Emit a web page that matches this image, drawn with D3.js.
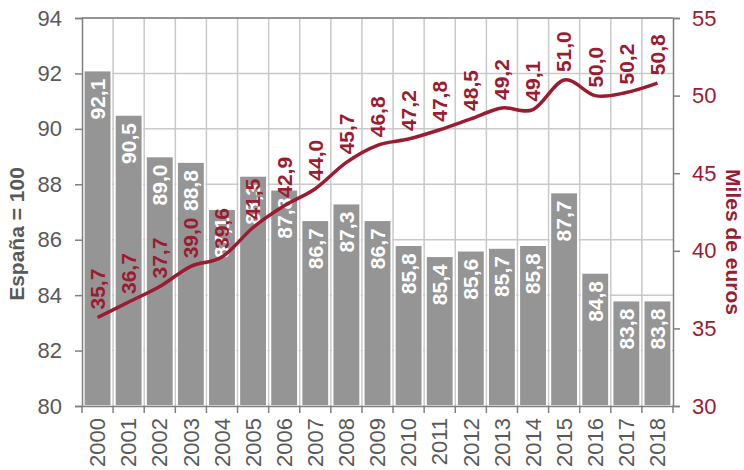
<!DOCTYPE html>
<html>
<head>
<meta charset="utf-8">
<script src="https://cdn.jsdelivr.net/npm/d3@7"></script>
<style>
  body { margin: 0; background: #fff; }
  svg { display: block; font-family: "Liberation Sans", Arial, sans-serif; }
</style>
</head>
<body>
<div id="chart"></div>
<script>
const years = ['2000', '2001', '2002', '2003', '2004', '2005', '2006', '2007', '2008', '2009',
  '2010', '2011', '2012', '2013', '2014', '2015', '2016', '2017', '2018'];
const indice = [92.1, 90.5, 89.0, 88.8, 87.1, 88.3, 87.8, 86.7, 87.3, 86.7,
  85.8, 85.4, 85.6, 85.7, 85.8, 87.7, 84.8, 83.8, 83.8];
const miles = [35.7, 36.7, 37.7, 39.0, 39.6, 41.5, 42.9, 44.0, 45.7, 46.8,
  47.2, 47.8, 48.5, 49.2, 49.1, 51.0, 50.0, 50.2, 50.8];
const leftTicks = [80, 82, 84, 86, 88, 90, 92, 94];
const rightTicks = [30, 35, 40, 45, 50, 55];

const width = 744;
const height = 470;
const margin = { top: 18, right: 71, bottom: 64, left: 82 };
const w = width - margin.left - margin.right;
const h = height - margin.top - margin.bottom;

const red = '#9b1c31';
const grey = '#595959';
const fmt = d => d.toFixed(1).replace('.', ',');

const svg = d3.select('#chart').append('svg')
  .attr('width', width)
  .attr('height', height);
const plot = svg.append('g')
  .attr('transform', `translate(${margin.left},${margin.top})`);

const x = d3.scaleBand().domain(years).range([0, w]).padding(0);
const yL = d3.scaleLinear().domain([80, 94]).range([h, 0]);
const yR = d3.scaleLinear().domain([30, 55]).range([h, 0]);

// grid
plot.append('g')
  .selectAll('line')
  .data(leftTicks)
  .enter().append('line')
    .attr('x1', 0).attr('x2', w)
    .attr('y1', d => yL(d)).attr('y2', d => yL(d))
    .attr('stroke', '#c9c9c9')
    .attr('stroke-width', 1.5);
plot.append('g')
  .selectAll('line')
  .data(years.slice(1))
  .enter().append('line')
    .attr('x1', d => x(d)).attr('x2', d => x(d))
    .attr('y1', 0).attr('y2', h)
    .attr('stroke', '#c9c9c9')
    .attr('stroke-width', 1.5);

// bars
const pad = x.bandwidth() * 0.06;
plot.append('g')
  .selectAll('rect')
  .data(indice)
  .enter().append('rect')
    .attr('x', (d, i) => x(years[i]) + pad)
    .attr('y', d => yL(d))
    .attr('width', x.bandwidth() - 2 * pad)
    .attr('height', d => h - yL(d))
    .attr('fill', '#959595')
    .attr('stroke', '#fff')
    .attr('stroke-width', 1.5);

// axes
const axisColor = '#7f7f7f';
const left = plot.append('g')
  .call(d3.axisLeft(yL).tickValues(leftTicks).tickSize(7).tickPadding(13));
const right = plot.append('g')
  .attr('transform', `translate(${w},0)`)
  .call(d3.axisRight(yR).tickValues(rightTicks).tickSize(7).tickPadding(12));
const bottom = plot.append('g')
  .attr('transform', `translate(0,${h})`)
  .call(d3.axisBottom(x).tickSize(0).tickFormat(d => d));

[left, right, bottom].forEach(a => {
  a.select('.domain').attr('stroke', axisColor).attr('stroke-width', 1.5);
  a.selectAll('.tick line').attr('stroke', axisColor).attr('stroke-width', 1.5);
  a.attr('font-family', null).attr('font-size', 22);
});
left.selectAll('text').attr('fill', grey);
right.selectAll('text').attr('fill', red);
bottom.selectAll('.tick text')
  .attr('fill', grey)
  .attr('text-anchor', 'end')
  .attr('transform', `translate(0,12) rotate(-90)`)
  .attr('x', 0).attr('y', 0).attr('dy', '0.35em');

// tick marks on band boundaries
plot.append('g')
  .selectAll('line')
  .data(years.concat(['end']))
  .enter().append('line')
    .attr('x1', (d, i) => i * x.step()).attr('x2', (d, i) => i * x.step())
    .attr('y1', h).attr('y2', h + 7)
    .attr('stroke', axisColor)
    .attr('stroke-width', 1.5);

// top frame line
plot.append('line')
  .attr('x1', 0).attr('x2', w).attr('y1', 0).attr('y2', 0)
  .attr('stroke', axisColor).attr('stroke-width', 1.5);

// bar labels
plot.append('g')
  .selectAll('text')
  .data(indice)
  .enter().append('text')
    .attr('transform', (d, i) => `translate(${x(years[i]) + x.bandwidth() / 2},${yL(d) + 8}) rotate(-90)`)
    .attr('text-anchor', 'end')
    .attr('dy', '0.35em')
    .attr('fill', '#fff')
    .attr('font-weight', 'bold')
    .attr('font-size', 21)
    .text(fmt);

// line
const line = d3.line()
  .x((d, i) => x(years[i]) + x.bandwidth() / 2)
  .y(d => yR(d))
  .curve(d3.curveCardinal.tension(0));
plot.append('path')
  .datum(miles)
  .attr('d', line)
  .attr('fill', 'none')
  .attr('stroke', red)
  .attr('stroke-width', 3.5);

plot.append('g')
  .selectAll('text')
  .data(miles)
  .enter().append('text')
    .attr('transform', (d, i) => `translate(${x(years[i]) + x.bandwidth() / 2},${yR(d) - 8}) rotate(-90)`)
    .attr('text-anchor', 'start')
    .attr('dy', '0.35em')
    .attr('fill', red)
    .attr('font-weight', 'bold')
    .attr('font-size', 21)
    .text(fmt);

// axis titles
svg.append('text')
  .attr('transform', 'translate(17,234) rotate(-90)')
  .attr('text-anchor', 'middle')
  .attr('dy', '0.35em')
  .attr('fill', grey)
  .attr('font-weight', 'bold')
  .attr('font-size', 21)
  .text('España = 100');
svg.append('text')
  .attr('transform', 'translate(733,242) rotate(90)')
  .attr('text-anchor', 'middle')
  .attr('dy', '0.35em')
  .attr('fill', red)
  .attr('font-weight', 'bold')
  .attr('font-size', 21)
  .text('Miles de euros');
</script>
</body>
</html>
